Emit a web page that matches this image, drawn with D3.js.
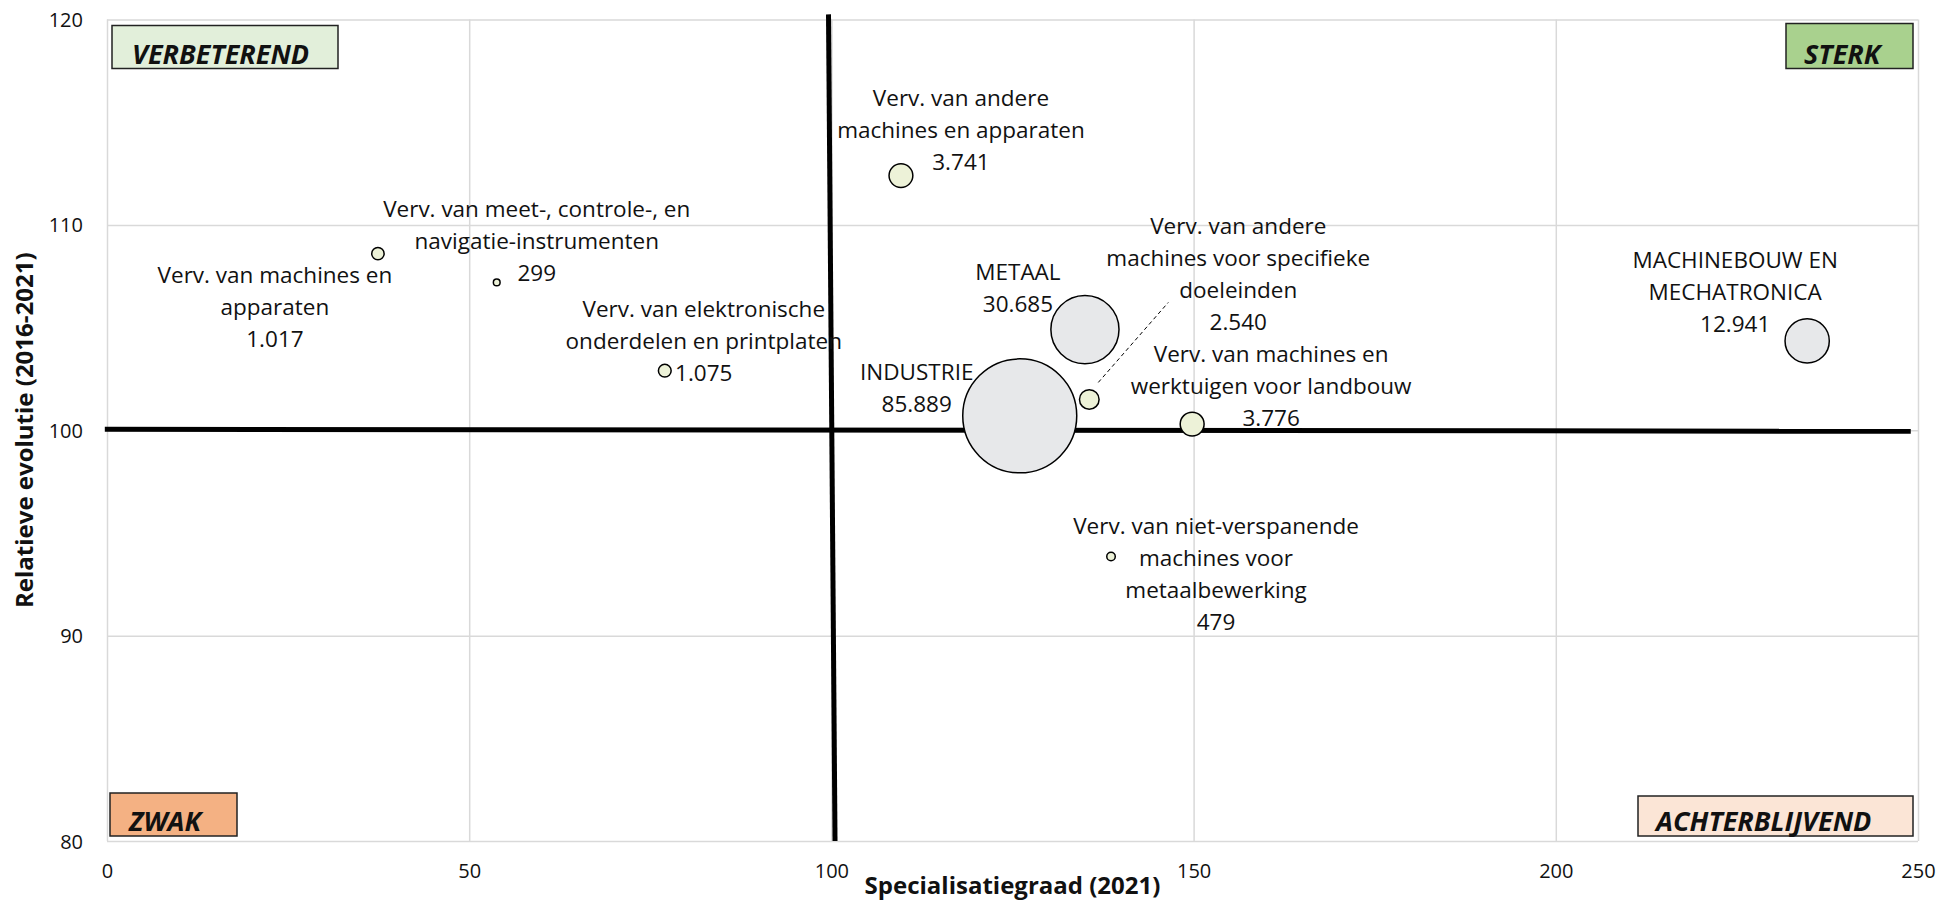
<!DOCTYPE html>
<html>
<head>
  <meta charset="utf-8">
  <title>Specialisatiegraad vs relatieve evolutie</title>
  <script src="https://d3js.org/d3.v7.min.js"></script>
  <style>
    body { margin: 0; background: #fff; }
    text { font-family: "Open Sans", Lato, sans-serif; fill: #111; }
    .grid line { stroke: #d9d9d9; stroke-width: 1.5px; }
    .grid path { display: none; }
    .tick-label text { font-size: 20px; }
    .axis-title { font-size: 24px; font-weight: bold; }
    .lbl { font-size: 22.5px; }
    .quad text { font-size: 27px; font-weight: bold; font-style: italic; }
  </style>
</head>
<body>
<script>
  const width = 1957;
  const height = 901;
  const margin = {top: 19.5, right: 39, bottom: 60, left: 107};

  // data
  const names = [
    ["Verv. van machines en", "apparaten"],
    ["Verv. van meet-, controle-, en", "navigatie-instrumenten"],
    ["Verv. van elektronische", "onderdelen en printplaten"],
    ["Verv. van andere", "machines en apparaten"],
    ["METAAL"],
    ["INDUSTRIE"],
    ["Verv. van andere", "machines voor specifieke", "doeleinden"],
    ["Verv. van machines en", "werktuigen voor landbouw"],
    ["Verv. van niet-verspanende", "machines voor", "metaalbewerking"],
    ["MACHINEBOUW EN", "MECHATRONICA"]
  ];
  const specialisatie = [37.4, 53.8, 77.0, 109.6, 135.0, 126.0, 135.6, 149.8, 138.6, 234.7];
  const evolutie = [108.6, 107.2, 102.9, 112.4, 104.9, 100.7, 101.5, 100.3, 93.85, 104.35];
  const werkgelegenheid = [1017, 299, 1075, 3741, 30685, 85889, 2540, 3776, 479, 12941];
  const isSector = [false, false, false, false, true, true, false, false, false, true];

  const xTicks = [0, 50, 100, 150, 200, 250];
  const yTicks = [80, 90, 100, 110, 120];
  const quadrants = ["VERBETEREND", "STERK", "ZWAK", "ACHTERBLIJVEND"];

  // label placement (pixels relative to the bubble: centre x, first baseline)
  const labelOffsets = [
    [-103, 29], [40, -65], [39, -54], [60, -70], [-67, -50],
    [-103, -36], [149, -165], [79, -62], [105, -23], [-72, -73]
  ];
  const lineHeight = 32;

  const nl = d3.formatLocale({decimal: ",", thousands: ".", grouping: [3], currency: ["€", ""]});
  const fmt = nl.format(",d");

  const svg = d3.select("body")
    .append("svg")
    .attr("width", width)
    .attr("height", height);

  const x = d3.scaleLinear().domain([0, 250]).range([margin.left, width - margin.right]);
  const y = d3.scaleLinear().domain([80, 120]).range([height - margin.bottom, margin.top]);
  const r = d3.scaleSqrt().domain([0, d3.max(werkgelegenheid)]).range([0, 57]);

  // gridlines
  svg.append("g")
    .attr("class", "grid")
    .attr("transform", `translate(0,${y(80)})`)
    .call(d3.axisBottom(x).tickValues(xTicks).tickSize(-(y(80) - y(120))).tickFormat(""));
  svg.append("g")
    .attr("class", "grid")
    .attr("transform", `translate(${x(0)},0)`)
    .call(d3.axisLeft(y).tickValues(yTicks).tickSize(-(x(250) - x(0))).tickFormat(""));

  // tick labels
  const xAxis = svg.append("g")
    .attr("class", "tick-label")
    .attr("transform", `translate(0,${y(80) + 20})`)
    .call(d3.axisBottom(x).tickValues(xTicks).tickSize(0));
  xAxis.select(".domain").remove();

  const yAxis = svg.append("g")
    .attr("class", "tick-label")
    .attr("transform", `translate(${x(0) - 24},0)`)
    .call(d3.axisLeft(y).tickValues(yTicks).tickSize(0));
  yAxis.select(".domain").remove();
  yAxis.selectAll("text").attr("x", 0).attr("dy", "0.35em");

  // axis titles
  svg.append("text")
    .attr("class", "axis-title")
    .attr("x", (x(0) + x(250)) / 2)
    .attr("y", 894)
    .attr("text-anchor", "middle")
    .text("Specialisatiegraad (2021)");

  svg.append("text")
    .attr("class", "axis-title")
    .attr("transform", `translate(33,${(y(80) + y(120)) / 2}) rotate(-90)`)
    .attr("text-anchor", "middle")
    .text("Relatieve evolutie (2016-2021)");

  // quadrant boxes
  const boxes = [
    {x0: x(0) + 5, y0: y(120) + 6, w: 226, h: 43, tx: 20},
    {x0: x(250) - 132, y0: y(120) + 4, w: 127, h: 45, tx: 18},
    {x0: x(0) + 3, y0: y(80) - 48, w: 127, h: 43, tx: 19},
    {x0: x(250) - 280, y0: y(80) - 45, w: 275, h: 40, tx: 18}
  ];
  const boxFill = ["#e2efda", "#a9d18e", "#f4b183", "#fbe5d6"];
  const quad = svg.append("g").attr("class", "quad")
    .selectAll("g")
    .data(quadrants)
    .join("g")
    .attr("transform", (d, i) => `translate(${boxes[i].x0},${boxes[i].y0})`);
  quad.append("rect")
    .attr("width", (d, i) => boxes[i].w)
    .attr("height", (d, i) => boxes[i].h)
    .attr("fill", (d, i) => boxFill[i])
    .attr("stroke", "#222")
    .attr("stroke-width", 1.5);
  quad.append("text")
    .attr("x", (d, i) => boxes[i].tx)
    .attr("y", (d, i) => boxes[i].h - 5)
    .text(d => d);

  // thick reference lines at 100 / 100
  svg.append("line")
    .attr("x1", x(-0.3)).attr("y1", y(100.05))
    .attr("x2", x(249)).attr("y2", y(99.95))
    .attr("stroke", "#000").attr("stroke-width", 5);
  svg.append("line")
    .attr("x1", x(99.6)).attr("y1", y(120.25))
    .attr("x2", x(100.5)).attr("y2", y(80))
    .attr("stroke", "#000").attr("stroke-width", 5);

  // bubbles, largest first
  const idx = d3.range(names.length).sort((a, b) => werkgelegenheid[b] - werkgelegenheid[a]);
  svg.append("g")
    .selectAll("circle")
    .data(idx)
    .join("circle")
    .attr("cx", i => x(specialisatie[i]))
    .attr("cy", i => y(evolutie[i]))
    .attr("r", i => r(werkgelegenheid[i]))
    .attr("fill", i => isSector[i] ? "#e7e8ea" : "#edf2d8")
    .attr("stroke", "#000")
    .attr("stroke-width", 1.5);

  // leader line for "specifieke doeleinden"
  svg.append("line")
    .attr("x1", x(specialisatie[6]) + 9).attr("y1", y(evolutie[6]) - 17)
    .attr("x2", x(specialisatie[6]) + 79).attr("y2", y(evolutie[6]) - 97)
    .attr("stroke", "#000").attr("stroke-width", 1)
    .attr("stroke-dasharray", "4,3");

  // labels
  const labels = svg.append("g")
    .selectAll("text")
    .data(d3.range(names.length))
    .join("text")
    .attr("class", "lbl")
    .attr("text-anchor", "middle")
    .attr("x", i => x(specialisatie[i]) + labelOffsets[i][0])
    .attr("y", i => y(evolutie[i]) + labelOffsets[i][1]);
  labels.each(function(i) {
    const lines = names[i].concat([fmt(werkgelegenheid[i])]);
    const t = d3.select(this);
    const x0 = t.attr("x");
    lines.forEach((s, k) => {
      t.append("tspan").attr("x", x0).attr("dy", k === 0 ? 0 : lineHeight).text(s);
    });
  });
</script>
</body>
</html>
